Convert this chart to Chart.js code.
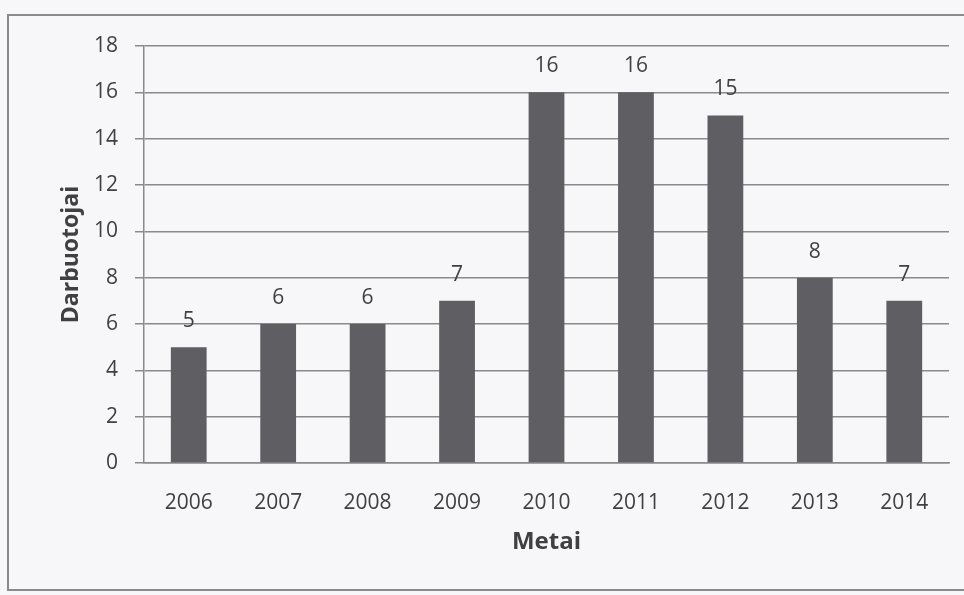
<!DOCTYPE html>
<html>
<head>
<meta charset="utf-8">
<script src="https://cdn.jsdelivr.net/npm/chart.js@4"></script>
<style>
  html, body { margin: 0; padding: 0; background: #f7f7f9; }
  #wrap { position: relative; width: 964px; height: 595px; overflow: hidden; }
  #frame { position: absolute; left: 7px; top: 14px; width: 970px; height: 577px; border: 2px solid #8a8a8e; box-sizing: border-box; }
  #c { position: absolute; left: 0; top: 0; }
</style>
</head>
<body>
<div id="wrap">
  <div id="frame"></div>
  <canvas id="c" width="964" height="595"></canvas>
</div>
<script>
const years = ['2006', '2007', '2008', '2009', '2010', '2011', '2012', '2013', '2014'];
const employees = [5, 6, 6, 7, 16, 16, 15, 8, 7];
const yTicks = [0, 2, 4, 6, 8, 10, 12, 14, 16, 18];
const xTitle = 'Metai';
const yTitle = 'Darbuotojai';

const FONT = "'Open Sans', 'Noto Sans', sans-serif";
const TEXT = '#3f3f44';

const valueLabels = {
  id: 'valueLabels',
  afterDatasetsDraw(chart) {
    const ctx = chart.ctx;
    const meta = chart.getDatasetMeta(0);
    ctx.save();
    ctx.font = '21px ' + FONT;
    ctx.fillStyle = TEXT;
    ctx.textAlign = 'center';
    ctx.textBaseline = 'middle';
    meta.data.forEach((bar, i) => {
      ctx.fillText(String(employees[i]), bar.x, bar.y - 26);
    });
    ctx.restore();
  }
};

new Chart(document.getElementById('c'), {
  type: 'bar',
  data: {
    labels: years,
    datasets: [{
      data: employees,
      backgroundColor: '#5e5e63',
      borderWidth: 0,
      barPercentage: 0.8,
      categoryPercentage: 0.5
    }]
  },
  options: {
    responsive: false,
    animation: false,
    devicePixelRatio: 1,
    layout: { padding: { left: 10, top: 46, right: 15, bottom: 0 } },
    plugins: { legend: { display: false }, tooltip: { enabled: false } },
    scales: {
      x: {
        grid: { display: false },
        border: { display: true, color: '#8a8a8e', width: 1.5 },
        ticks: { color: TEXT, font: { family: FONT, size: 21 }, padding: 19, maxRotation: 0 },
        title: { display: true, text: xTitle, color: TEXT, font: { family: FONT, size: 24, weight: 'bold' }, padding: { top: 0, bottom: 38 } },
        afterFit(s) { s.height = 132; }
      },
      y: {
        min: 0, max: 18,
        afterBuildTicks(s) { s.ticks = yTicks.map(v => ({ value: v })); },
        grid: { color: '#8a8a8e', lineWidth: 1.5, tickLength: 9, drawTicks: true },
        border: { display: true, color: '#8a8a8e', width: 1.5 },
        ticks: { color: TEXT, font: { family: FONT, size: 21 }, padding: 17 },
        title: { display: true, text: yTitle, color: TEXT, font: { family: FONT, size: 23, weight: 'bold' }, padding: { top: 48, bottom: 0 } },
        afterFit(s) { s.width = 134; }
      }
    }
  },
  plugins: [valueLabels]
});
</script>
</body>
</html>
